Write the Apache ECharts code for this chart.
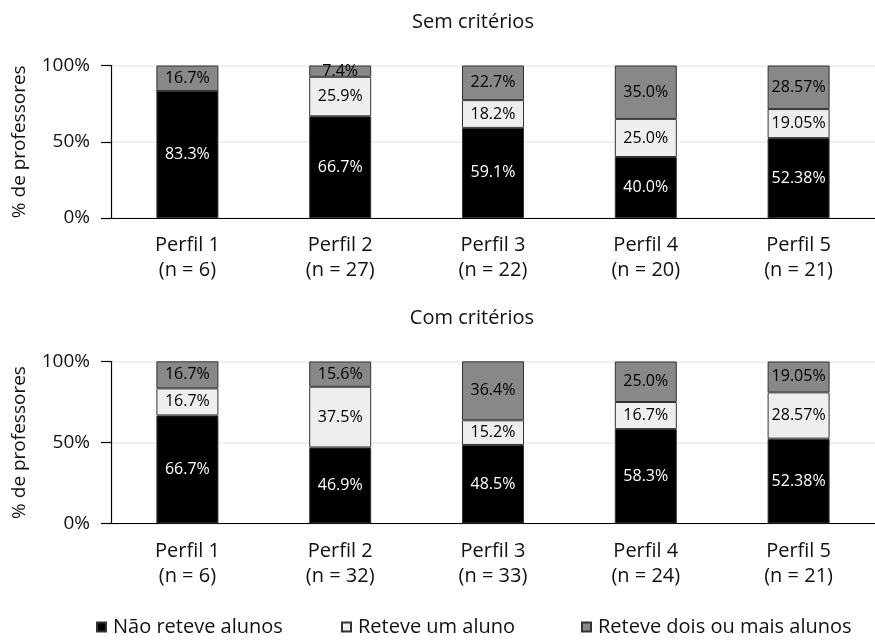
<!DOCTYPE html>
<html>
<head>
<meta charset="utf-8">
<script src="https://cdn.jsdelivr.net/npm/echarts@6/dist/echarts.min.js"></script>
<style>
html,body{margin:0;padding:0;background:#fff;}
#chart{width:875px;height:640px;}
</style>
</head>
<body>
<div id="chart"></div>
<script>
// ---- data ----
var categories = ['Perfil 1', 'Perfil 2', 'Perfil 3', 'Perfil 4', 'Perfil 5'];
var nSem = [6, 27, 22, 20, 21];
var nCom = [6, 32, 33, 24, 21];
var seriesNames = ['Não reteve alunos', 'Reteve um aluno', 'Reteve dois ou mais alunos'];
// Sem critérios
var semNao = [83.3, 66.7, 59.1, 40.0, 52.38];
var semUm = [0, 25.9, 18.2, 25.0, 19.05];
var semDois = [16.7, 7.4, 22.7, 35.0, 28.57];
// Com critérios
var comNao = [66.7, 46.9, 48.5, 58.3, 52.38];
var comUm = [16.7, 37.5, 15.2, 16.7, 28.57];
var comDois = [16.7, 15.6, 36.4, 25.0, 19.05];
var yTicks = [0, 50, 100];

var FONT = 'Open Sans';
var colors = ['#000000', '#eeeeee', '#888888'];
var labelColors = ['#ffffff', '#000000', '#000000'];

function fmt(p) {
  var v = p.value;
  if (!v) return '';
  var r = Math.round(v * 10) / 10;
  return (Math.abs(r - v) < 1e-9 ? v.toFixed(1) : v.toFixed(2)) + '%';
}

function catLabels(ns) {
  return categories.map(function (c, i) { return c + '\n(n = ' + ns[i] + ')'; });
}

function mkX(idx, ns) {
  return {
    type: 'category', gridIndex: idx, data: catLabels(ns),
    axisLine: { lineStyle: { color: '#000', width: 1.2 } },
    axisTick: { show: false },
    axisLabel: { fontFamily: FONT, fontSize: 20, color: '#111', lineHeight: 25, margin: 15 }
  };
}
function mkY(idx) {
  return {
    type: 'value', gridIndex: idx, min: yTicks[0], max: yTicks[yTicks.length - 1], interval: 50,
    name: '% de professores', nameLocation: 'middle', nameGap: 82,
    nameTextStyle: { fontFamily: FONT, fontSize: 19, color: '#111' },
    axisLine: { show: true, lineStyle: { color: '#000', width: 1.2 } },
    axisTick: { show: true, length: 10, lineStyle: { color: '#000', width: 1.2 } },
    axisLabel: { fontFamily: FONT, fontSize: 19, color: '#111', margin: 21, formatter: '{value}%' },
    splitLine: { show: true, lineStyle: { color: '#ebebeb', width: 1.5 } }
  };
}
function mkS(name, data, k, idx) {
  return {
    name: name, type: 'bar', xAxisIndex: idx, yAxisIndex: idx, stack: 'g' + idx,
    data: data, barWidth: 62,
    itemStyle: { color: colors[k], borderColor: '#333', borderWidth: 1 },
    label: { show: true, position: 'inside', formatter: fmt, fontFamily: FONT, fontSize: 16, color: labelColors[k] },
    emphasis: { disabled: true }
  };
}
function mkLegend(name, left) {
  return {
    data: [name], left: left, top: 612, itemWidth: 9, itemHeight: 9, itemGap: 0,
    icon: 'rect', selectedMode: false,
    textStyle: { fontFamily: FONT, fontSize: 20, color: '#111', padding: [0, 0, 0, 2] }
  };
}

var chart = echarts.init(document.getElementById('chart'));
chart.setOption({
  animation: false,
  title: [
    { text: 'Sem critérios', left: 468, top: 7, textAlign: 'center', textStyle: { fontFamily: FONT, fontSize: 20, fontWeight: 'normal', color: '#111' } },
    { text: 'Com critérios', left: 467, top: 303, textAlign: 'center', textStyle: { fontFamily: FONT, fontSize: 20, fontWeight: 'normal', color: '#111' } }
  ],
  legend: [
    mkLegend(seriesNames[0], 91),
    mkLegend(seriesNames[1], 336),
    mkLegend(seriesNames[2], 576)
  ],
  grid: [
    { left: 111, top: 65.5, width: 770, height: 152.5 },
    { left: 111, top: 361.5, width: 770, height: 162 }
  ],
  xAxis: [mkX(0, nSem), mkX(1, nCom)],
  yAxis: [mkY(0), mkY(1)],
  series: [
    mkS(seriesNames[0], semNao, 0, 0),
    mkS(seriesNames[1], semUm, 1, 0),
    mkS(seriesNames[2], semDois, 2, 0),
    mkS(seriesNames[0], comNao, 0, 1),
    mkS(seriesNames[1], comUm, 1, 1),
    mkS(seriesNames[2], comDois, 2, 1)
  ]
});
</script>
</body>
</html>
